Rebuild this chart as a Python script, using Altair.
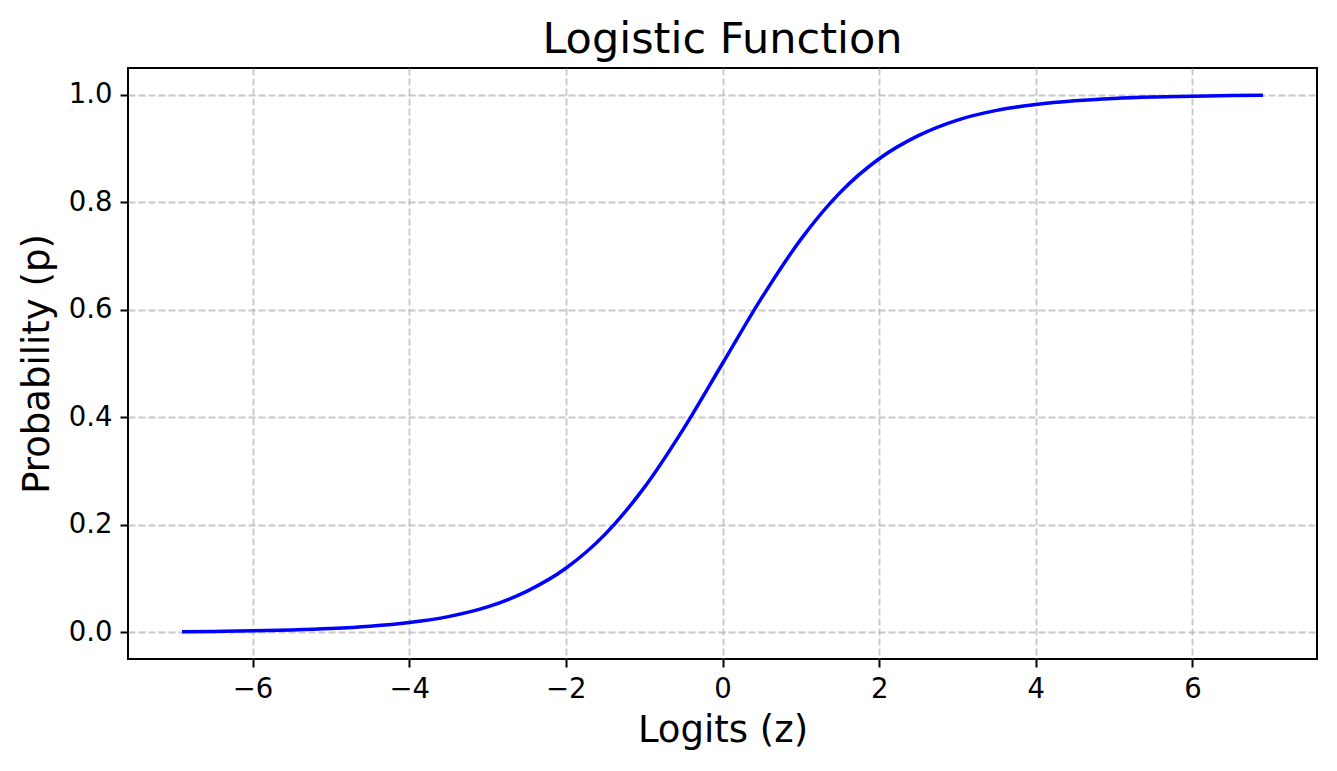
import altair as alt
import pandas as pd

# Values
z_values = [-6.9, -6.5, -6.0, -5.5, -5.0, -4.5, -4.0, -3.5, -3.0, -2.5, -2.0, -1.5, -1.0, -0.5,
            0.0, 0.5, 1.0, 1.5, 2.0, 2.5, 3.0, 3.5, 4.0, 4.5, 5.0, 5.5, 6.0, 6.5, 6.9]
p_values = [0.001, 0.0015, 0.0025, 0.0041, 0.0067, 0.011, 0.018, 0.029, 0.047, 0.076, 0.119,
            0.182, 0.269, 0.378, 0.5, 0.622, 0.731, 0.818, 0.881, 0.924, 0.953, 0.971, 0.982,
            0.989, 0.9933, 0.9959, 0.9975, 0.9985, 0.999]
x_ticks = [-6, -4, -2, 0, 2, 4, 6]
y_ticks = [0.0, 0.2, 0.4, 0.6, 0.8, 1.0]

df = pd.DataFrame({"z": z_values, "p": p_values})

FONT = "DejaVu Sans"

common_axis = dict(
    labelFont=FONT,
    titleFont=FONT,
    labelFontSize=27.5,
    labelColor="black",
    titleColor="black",
    titleFontWeight="normal",
    titleFontSize=37,
    domain=False,
    tickColor="black",
    tickWidth=2,
    tickSize=8,
    labelPadding=8,
    grid=True,
    gridColor="#b0b0b0",
    gridOpacity=0.7,
    gridWidth=1.8,
    gridDash=[7, 3],
)

chart = (
    alt.Chart(df)
    .mark_line(color="#0000ff", strokeWidth=3.5, interpolate="monotone")
    .encode(
        x=alt.X(
            "z:Q",
            scale=alt.Scale(domain=[-7.59, 7.59], nice=False, zero=False),
            axis=alt.Axis(
                title="Logits (z)",
                values=x_ticks,
                format="d",
                titlePadding=10,
                **common_axis,
            ),
        ),
        y=alt.Y(
            "p:Q",
            scale=alt.Scale(domain=[-0.0499, 1.0499], nice=False, zero=False),
            axis=alt.Axis(
                title="Probability (p)",
                values=y_ticks,
                format=".1f",
                titlePadding=12,
                **common_axis,
            ),
        ),
    )
    .properties(
        width=1189,
        height=591,
        title=alt.TitleParams(
            "Logistic Function",
            fontSize=43,
            font=FONT,
            fontWeight="normal",
            color="black",
            anchor="middle",
            baseline="alphabetic",
            frame="group",
            offset=-28,
        ),
        padding={"left": 120, "top": 60, "right": 12, "bottom": 100},
        autosize=alt.AutoSizeParams(type="none"),
    )
    .configure_view(stroke="black", strokeWidth=2)
)

chart.save("out.html", embed_options={"renderer": "svg", "actions": False})
